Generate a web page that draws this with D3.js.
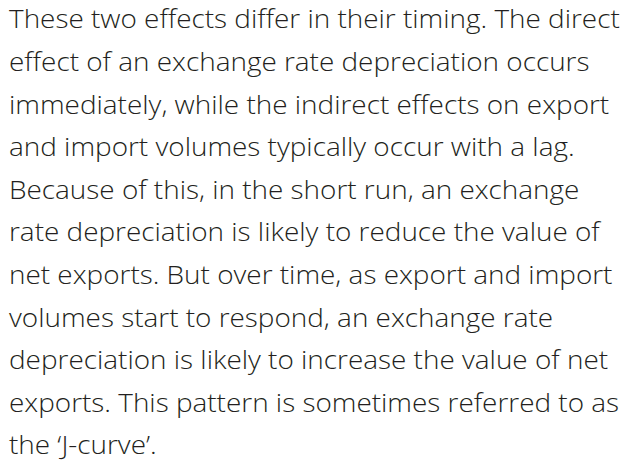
<!DOCTYPE html>
<html>
<head>
<meta charset="utf-8">
<script src="https://cdn.jsdelivr.net/npm/d3@7"></script>
<style>
  html, body { margin: 0; padding: 0; background: #fff; }
</style>
</head>
<body>
<div id="para"></div>
<script>
// paragraph lines, as broken in the original
const lines = [
    "These two effects differ in their timing. The direct",
    "effect of an exchange rate depreciation occurs",
    "immediately, while the indirect effects on export",
    "and import volumes typically occur with a lag.",
    "Because of this, in the short run, an exchange",
    "rate depreciation is likely to reduce the value of",
    "net exports. But over time, as export and import",
    "volumes start to respond, an exchange rate",
    "depreciation is likely to increase the value of net",
    "exports. This pattern is sometimes referred to as",
    "the \u2018J-curve\u2019."
];

const width = 633;
const height = 463;
const left = 9;
const firstBaseline = 28.5;
const lineHeight = 42.6;
const fontSize = 25;
const targetWidth = 611; // width of the first line in the picture

const svg = d3.select('#para')
    .append('svg')
    .attr('width', width)
    .attr('height', height);

const y = d3.scaleLinear()
    .domain([0, 1])
    .range([firstBaseline, firstBaseline + lineHeight]);

const g = svg.append('g')
    .attr('font-family', '"Open Sans", "Noto Sans", sans-serif')
    .attr('font-size', fontSize)
    .attr('font-weight', 300)
    .attr('fill', '#231f20');

const text = g.selectAll('text')
    .data(lines)
    .join('text')
    .attr('x', 0)
    .attr('y', (d, i) => y(i))
    .text(d => d);

// squeeze horizontally so the first line spans the same width (narrower face in the original)
const len = text.node().getComputedTextLength();
const sx = targetWidth / len;
g.attr('transform', `translate(${left},0) scale(${sx},1)`);
</script>
</body>
</html>
